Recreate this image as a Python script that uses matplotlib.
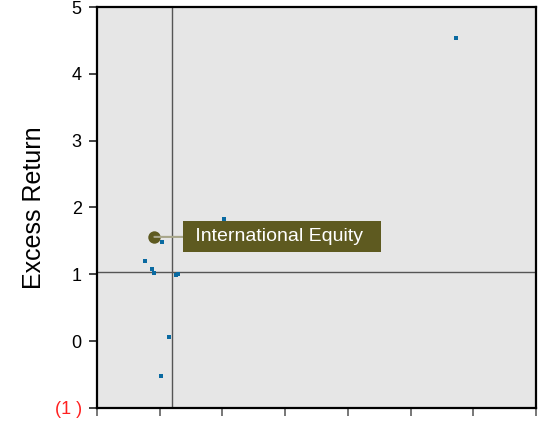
import matplotlib
matplotlib.use("Agg")
import matplotlib.pyplot as plt

plt.rcParams['font.family'] = ['Liberation Sans', 'DejaVu Sans']

# Risk (x) vs excess return (y) for each asset class
risk = [5.72, 2.02, 1.03, 0.77, 0.87, 0.91, 1.26, 1.29, 1.15, 1.02]
excess_return = [4.54, 1.83, 1.49, 1.20, 1.08, 1.02, 0.995, 1.01, 0.06, -0.52]

# Highlighted asset
highlight_name = "International Equity"
highlight_risk = 0.915
highlight_return = 1.56

# Reference lines (averages)
avg_risk = 1.2
avg_return = 1.03

y_ticks = [-1, 0, 1, 2, 3, 4, 5]
y_tick_labels = ["(1 )", "0", "1", "2", "3", "4", "5"]
x_ticks = [0, 1, 2, 3, 4, 5, 6, 7]

fig = plt.figure(figsize=(5.41, 4.22), dpi=100)
ax = fig.add_axes([0.1793, 0.0332, 0.9908 - 0.1793, 0.9834 - 0.0332])
ax.set_facecolor("#e6e6e6")

ax.set_xlim(0, 7)
ax.set_ylim(-1, 5)

ax.axhline(avg_return, color="#555555", lw=1.0, zorder=2)
ax.axvline(avg_risk, color="#555555", lw=1.0, zorder=2)

ax.scatter(risk, excess_return, marker="s", s=10, color="#0a6aa1", zorder=3, linewidths=0)

ax.scatter([highlight_risk], [highlight_return], s=80, color="#5e5a20", zorder=5, linewidths=0)
ax.annotate(" " + highlight_name + "  ", xy=(highlight_risk, highlight_return),
            xytext=(1.49, highlight_return), textcoords="data",
            va="center", ha="left", color="white", fontsize=14,
            bbox=dict(boxstyle="square,pad=0.36", fc="#5e5a20", ec="none"),
            arrowprops=dict(arrowstyle="-", color="#a8a68a", lw=1.5, shrinkA=0, shrinkB=0),
            zorder=6)

ax.set_yticks(y_ticks)
ax.set_yticklabels(y_tick_labels, fontsize=13)
ax.get_yticklabels()[0].set_color("#ff2020")
ax.set_xticks(x_ticks)
ax.set_xticklabels([])
ax.tick_params(axis="y", direction="out", length=6, width=1.2, color="#222222", pad=5)
ax.tick_params(axis="x", direction="out", length=6, width=1.4, color="#777777")

for side in ["left", "bottom", "top", "right"]:
    ax.spines[side].set_color("black")
    ax.spines[side].set_linewidth(1.6)

ax.set_ylabel("Excess Return", fontsize=18, labelpad=6)

fig.savefig("out.png", dpi=100)
